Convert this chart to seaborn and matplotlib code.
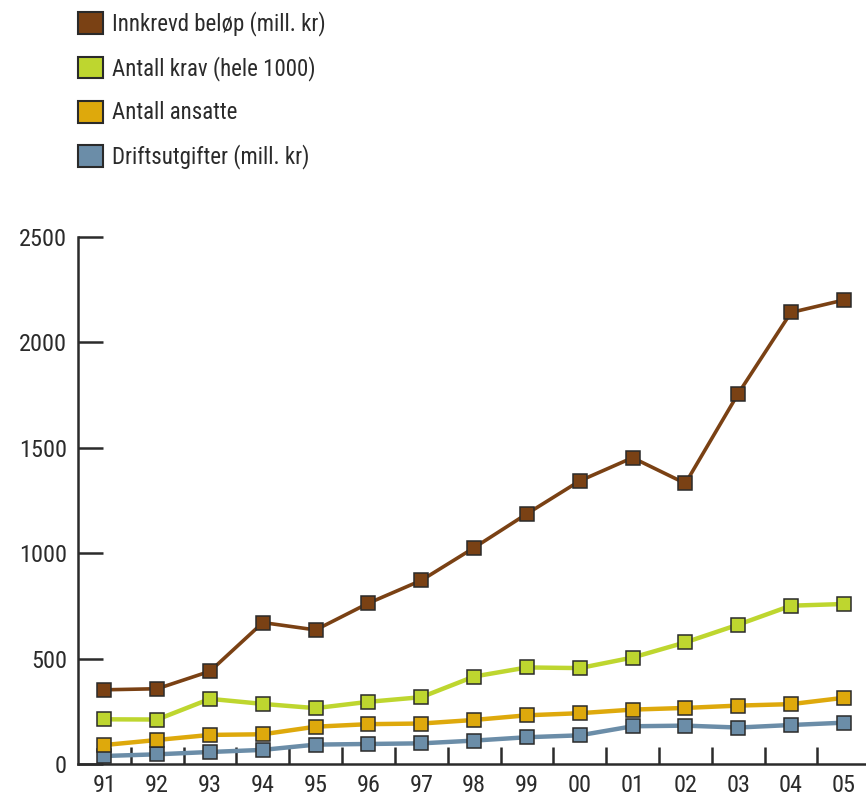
import matplotlib
matplotlib.use("Agg")
import matplotlib.pyplot as plt
from matplotlib import font_manager as fm
from matplotlib.patches import Patch
from matplotlib.ticker import FixedLocator
import seaborn as sns
import numpy as np

years = ["91", "92", "93", "94", "95", "96", "97", "98", "99", "00", "01", "02", "03", "04", "05"]

innkrevd = [352, 357, 440, 671, 636, 763, 871, 1026, 1187, 1343, 1453, 1331, 1757, 2142, 2201]
krav = [212, 211, 309, 285, 265, 295, 317, 415, 458, 455, 505, 577, 661, 751, 759]
ansatte = [90, 114, 138, 141, 177, 189, 192, 209, 231, 241, 258, 266, 277, 284, 314]
drift = [38, 46, 57, 67, 92, 95, 98, 111, 127, 136, 179, 182, 173, 185, 196]

labels = ["Innkrevd beløp (mill. kr)", "Antall krav (hele 1000)", "Antall ansatte", "Driftsutgifter (mill. kr)"]
colors = ["#7A4114", "#BED62F", "#DEA90C", "#6B8DA8"]
widths = [2.6, 3.2, 3.2, 3.2]

sns.set_theme(style="white")


def pick_narrow_font():
    """Return (family, stretch) for the narrowest sans face that is installed."""
    entries = fm.fontManager.ttflist
    names = {f.name for f in entries}
    for fam in ["Liberation Sans Narrow", "Roboto Condensed", "Open Sans Condensed",
                "DejaVu Sans Condensed", "Noto Sans Condensed"]:
        if fam in names:
            return fam, "normal"
    for f in entries:
        low = f.fname.lower()
        if ("narrow" in low or "condensed" in low) and "mono" not in low \
                and "serif" not in low and "bold" not in low and "italic" not in low \
                and "oblique" not in low:
            return f.name, f.stretch
    return "DejaVu Sans", "condensed"


fam, stretch = pick_narrow_font()
plt.rcParams["font.family"] = [fam, "DejaVu Sans"]
plt.rcParams["font.stretch"] = stretch

fig = plt.figure(figsize=(8.66, 7.98), dpi=100)
ax = fig.add_axes([78 / 866, 1 - 764 / 798, 1 - 78 / 866, (764 - 237) / 798])

axis_col = "#2b2b2b"
edge_col = "#2a2a2a"
pos = np.arange(len(years))

series = [innkrevd, krav, ansatte, drift]
# draw bottom series first so the upper lines sit on top
for vals, col, lw in reversed(list(zip(series, colors, widths))):
    sns.lineplot(x=pos, y=vals, ax=ax, color=col, linewidth=lw, marker="s",
                 markersize=9.8, markeredgecolor=edge_col, markeredgewidth=1.1,
                 clip_on=False, legend=False)

ax.set_xlim(-0.5, 14.42)
ax.set_ylim(0, 2500)
ax.set_xlabel("")
ax.set_ylabel("")

for s in ["top", "right"]:
    ax.spines[s].set_visible(False)
for s in ["left", "bottom"]:
    ax.spines[s].set_color(axis_col)
    ax.spines[s].set_linewidth(1.8)

ax.set_yticks([0, 500, 1000, 1500, 2000, 2500])
ax.set_yticklabels(["0", "500", "1000", "1500", "2000", "2500"])
ax.tick_params(axis="y", direction="in", length=18, width=1.8, color=axis_col,
               labelsize=17.5, labelcolor="#2b2b2b", pad=8, left=True)

ax.set_xticks(pos)
ax.set_xticklabels(years)
ax.tick_params(axis="x", which="major", length=0, labelsize=17.5, labelcolor="#2b2b2b", pad=7)
ax.xaxis.set_minor_locator(FixedLocator(pos[:-1] + 0.5))
ax.tick_params(axis="x", which="minor", direction="in", length=12, width=1.8,
               color=axis_col, bottom=True)

handles = [Patch(facecolor=c, edgecolor=edge_col, linewidth=1.5) for c in colors]
fig.legend(handles, labels, loc="upper left", bbox_to_anchor=(78 / 866, 1 - 11 / 798),
           frameon=False, fontsize=16.5, handlelength=1.09, handleheight=1.09,
           handletextpad=0.4, labelspacing=0.87, borderpad=0, borderaxespad=0,
           labelcolor="#2b2b2b")

fig.savefig("out.png", dpi=100)
